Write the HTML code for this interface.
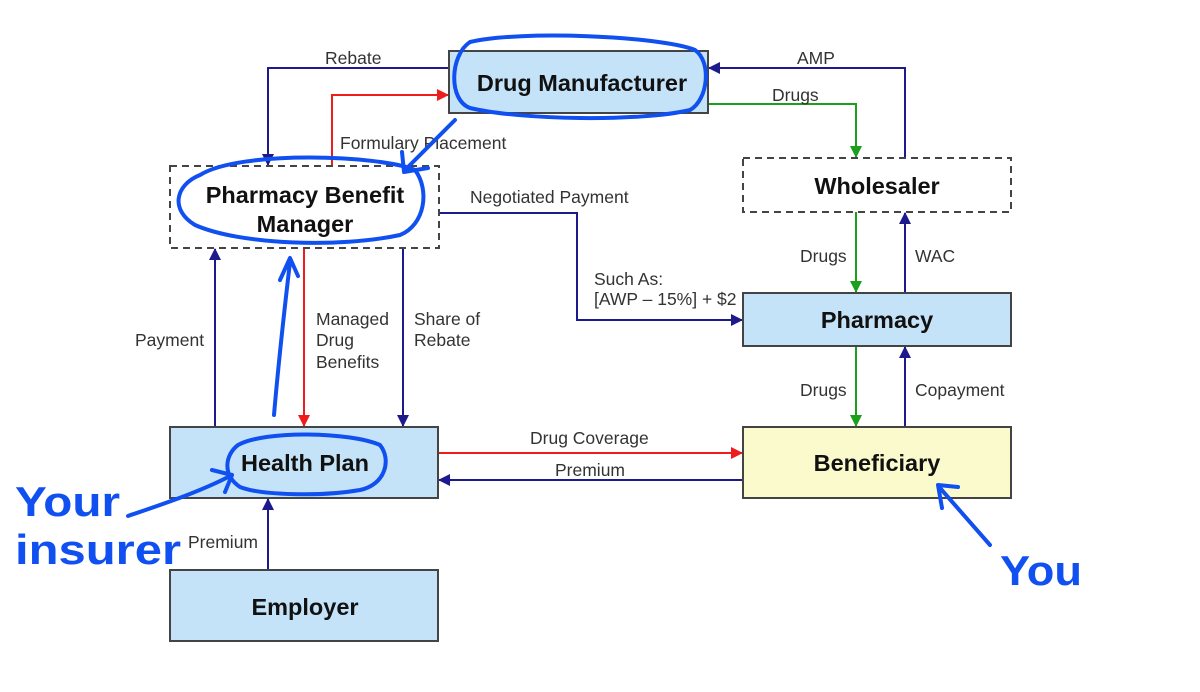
<!DOCTYPE html>
<html><head><meta charset="utf-8"><style>
html,body{margin:0;padding:0;background:#fff;}
svg{display:block;}
text{font-family:"Liberation Sans",Arial,sans-serif;}
</style></head><body>
<svg width="1200" height="692" viewBox="0 0 1200 692" xmlns="http://www.w3.org/2000/svg">
<defs>
<marker id="ab" markerWidth="12" markerHeight="12" refX="11" refY="6" orient="auto" markerUnits="userSpaceOnUse"><path d="M0,0 L12,6 L0,12 z" fill="#1c1a8c"/></marker>
<marker id="ar" markerWidth="12" markerHeight="12" refX="11" refY="6" orient="auto" markerUnits="userSpaceOnUse"><path d="M0,0 L12,6 L0,12 z" fill="#ee1c1c"/></marker>
<marker id="ag" markerWidth="12" markerHeight="12" refX="11" refY="6" orient="auto" markerUnits="userSpaceOnUse"><path d="M0,0 L12,6 L0,12 z" fill="#1aa01a"/></marker>
</defs>
<g fill="none" stroke-width="2">
<polyline points="449,68 268,68 268,165" stroke="#1c1a8c" marker-end="url(#ab)"/>
<polyline points="332,166 332,95 448,95" stroke="#ee1c1c" marker-end="url(#ar)"/>
<polyline points="905,158 905,68 709,68" stroke="#1c1a8c" marker-end="url(#ab)"/>
<polyline points="708,104 856,104 856,157" stroke="#1aa01a" marker-end="url(#ag)"/>
<polyline points="439,213 577,213 577,320 742,320" stroke="#1c1a8c" marker-end="url(#ab)"/>
<line x1="304" y1="248" x2="304" y2="426" stroke="#ee1c1c" marker-end="url(#ar)"/>
<line x1="403" y1="248" x2="403" y2="426" stroke="#1c1a8c" marker-end="url(#ab)"/>
<line x1="215" y1="427" x2="215" y2="249" stroke="#1c1a8c" marker-end="url(#ab)"/>
<line x1="856" y1="212" x2="856" y2="292" stroke="#1aa01a" marker-end="url(#ag)"/>
<line x1="905" y1="293" x2="905" y2="213" stroke="#1c1a8c" marker-end="url(#ab)"/>
<line x1="856" y1="346" x2="856" y2="426" stroke="#1aa01a" marker-end="url(#ag)"/>
<line x1="905" y1="427" x2="905" y2="347" stroke="#1c1a8c" marker-end="url(#ab)"/>
<line x1="438" y1="453" x2="742" y2="453" stroke="#ee1c1c" marker-end="url(#ar)"/>
<line x1="743" y1="480" x2="439" y2="480" stroke="#1c1a8c" marker-end="url(#ab)"/>
<line x1="268" y1="570" x2="268" y2="499" stroke="#1c1a8c" marker-end="url(#ab)"/>
</g>
<g stroke="#444" stroke-width="2">
<rect x="449" y="51" width="259" height="62" fill="#c5e3f8"/>
<rect x="170" y="166" width="269" height="82" fill="#fff" stroke-dasharray="7,5"/>
<rect x="743" y="158" width="268" height="54" fill="#fff" stroke-dasharray="7,5"/>
<rect x="743" y="293" width="268" height="53" fill="#c5e3f8"/>
<rect x="170" y="427" width="268" height="71" fill="#c5e3f8"/>
<rect x="743" y="427" width="268" height="71" fill="#fafacd"/>
<rect x="170" y="570" width="268" height="71" fill="#c5e3f8"/>
</g>
<g font-weight="bold" font-size="23.5" fill="#111" text-anchor="middle">
<text x="582" y="91">Drug Manufacturer</text>
<text x="305" y="203">Pharmacy Benefit</text>
<text x="305" y="232">Manager</text>
<text x="877" y="194">Wholesaler</text>
<text x="877" y="328">Pharmacy</text>
<text x="305" y="471">Health Plan</text>
<text x="877" y="471">Beneficiary</text>
<text x="305" y="615">Employer</text>
</g>
<g font-size="17.5" fill="#333">
<text x="325" y="64">Rebate</text>
<text x="340" y="149">Formulary Placement</text>
<text x="797" y="64">AMP</text>
<text x="772" y="101">Drugs</text>
<text x="470" y="203">Negotiated Payment</text>
<text x="594" y="285">Such As:</text>
<text x="594" y="305">[AWP – 15%] + $2</text>
<text x="316" y="325">Managed</text>
<text x="316" y="346">Drug</text>
<text x="316" y="368">Benefits</text>
<text x="414" y="325">Share of</text>
<text x="414" y="346">Rebate</text>
<text x="135" y="346">Payment</text>
<text x="800" y="262">Drugs</text>
<text x="915" y="262">WAC</text>
<text x="800" y="396">Drugs</text>
<text x="915" y="396">Copayment</text>
<text x="530" y="444">Drug Coverage</text>
<text x="555" y="476">Premium</text>
<text x="188" y="548">Premium</text>
</g>
<g fill="none" stroke="#1150f0" stroke-width="4" stroke-linecap="round" stroke-linejoin="round">
<path d="M470,42 C520,30 660,36 695,50 C712,62 708,100 690,110 C640,122 520,120 470,108 C448,100 450,55 470,42 Z"/>
<path d="M200,175 C240,150 380,155 415,170 C430,190 425,225 400,235 C340,248 240,245 195,225 C170,210 175,185 200,175 Z"/>
<path d="M238,445 C265,430 350,432 380,445 C392,460 385,485 360,490 C320,497 260,495 240,487 C222,475 225,455 238,445 Z"/>
<path d="M455,120 L405,170 M402,152 L404,172 L428,168"/>
<path d="M274,415 C277,380 282,330 290,262 M280,280 L290,258 L298,276"/>
<path d="M128,516 C160,505 200,492 232,475 M212,470 L232,475 L225,492"/>
<path d="M990,545 L940,488 M942,508 L938,485 L958,487"/>
</g>
<g fill="#1150f0" style="font-family:'DejaVu Sans',sans-serif;font-weight:bold;">
<text x="15" y="516" font-size="42" textLength="105" lengthAdjust="spacingAndGlyphs">Your</text>
<text x="15" y="564" font-size="42" textLength="166" lengthAdjust="spacingAndGlyphs">insurer</text>
<text x="1000" y="585" font-size="42" textLength="82" lengthAdjust="spacingAndGlyphs">You</text>
</g>
</svg>
</body></html>
